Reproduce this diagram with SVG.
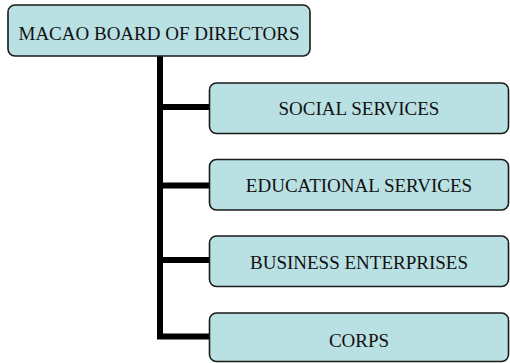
<svg xmlns="http://www.w3.org/2000/svg" width="510" height="363" viewBox="0 0 510 363">
<style>
.box{fill:#b9e0e3;stroke:#1a1a1a;stroke-width:1.6}
.lbl{font-family:"Liberation Serif",serif;font-size:19px;fill:#111;text-anchor:middle}
.con{fill:none;stroke:#000;stroke-width:6}
</style>
<rect width="510" height="363" fill="#fff"/>
<g id="connectors">
<path class="con" d="M160 56 V336.5 H209"/>
<path class="con" d="M160 107 H209"/>
<path class="con" d="M160 185.5 H209"/>
<path class="con" d="M160 260 H209"/>
</g>
<g id="board">
<rect class="box" x="8" y="5" width="302" height="51" rx="7"/>
<text class="lbl" x="159" y="40">MACAO BOARD OF DIRECTORS</text>
</g>
<g id="social">
<rect class="box" x="209.5" y="83" width="299" height="50.5" rx="7"/>
<text class="lbl" x="359" y="115">SOCIAL SERVICES</text>
</g>
<g id="educational">
<rect class="box" x="209.5" y="159.5" width="299" height="50.5" rx="7"/>
<text class="lbl" x="359" y="191.5">EDUCATIONAL SERVICES</text>
</g>
<g id="business">
<rect class="box" x="209.5" y="236" width="299" height="50.5" rx="7"/>
<text class="lbl" x="359" y="269">BUSINESS ENTERPRISES</text>
</g>
<g id="corps">
<rect class="box" x="209.5" y="313" width="299" height="48.5" rx="7"/>
<text class="lbl" x="359" y="346.5">CORPS</text>
</g>
</svg>
